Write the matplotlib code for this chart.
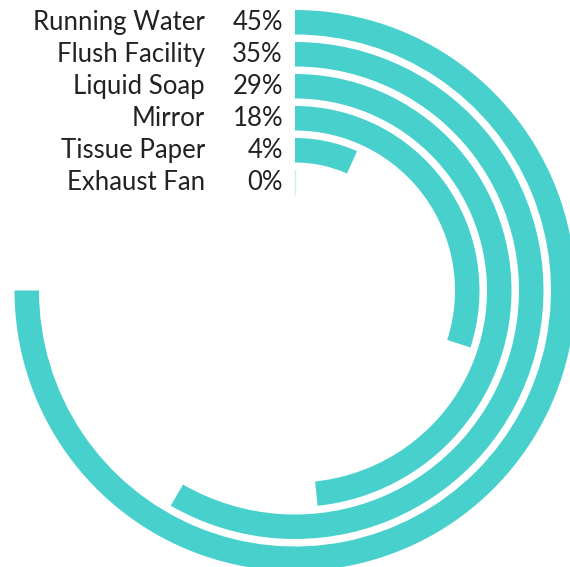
import numpy as np
import matplotlib
matplotlib.use("Agg")
import matplotlib.pyplot as plt

categories = ["Running Water", "Flush Facility", "Liquid Soap", "Mirror", "Tissue Paper", "Exhaust Fan"]
values = [45, 35, 29, 18, 4, 0]
value_labels = ["45%", "35%", "29%", "18%", "4%", "0%"]
scale_max = 60  # full circle

W, H = 570, 567
fig = plt.figure(figsize=(W / 100, H / 100), dpi=100)
plt.rcParams['font.family'] = ['Lato', 'DejaVu Sans']

cx, cy = 295, 567 - 290.5   # centre in pixels from bottom-left
R = 290
ax = fig.add_axes([(cx - R) / W, (cy - R) / H, 2 * R / W, 2 * R / H], projection='polar')
ax.set_theta_zero_location('N')
ax.set_theta_direction(-1)
ax.set_ylim(0, R)
ax.set_axis_off()

color = '#48D1CC'
outer0 = 280.5
pitch = 32
bw = 24.5
fs = 18.5
for i, (cat, v, lab) in enumerate(zip(categories, values, value_labels)):
    r_out = outer0 - i * pitch
    r_in = r_out - bw
    theta = v / scale_max * 2 * np.pi
    if v > 0:
        ax.barh(r_in, theta, left=0, height=bw, align='edge', color=color,
                edgecolor='none', linewidth=0)
    else:
        ax.plot([0, 0], [r_in, r_out], color='#c9efec', lw=1.0, solid_capstyle='butt')
    rc = (r_in + r_out) / 2
    ax.annotate(lab, xy=(0, rc), xycoords='data', xytext=(-12 * 0.72, 0),
                textcoords='offset points', ha='right', va='center',
                fontsize=fs, color='#222222', annotation_clip=False)
    ax.annotate(cat, xy=(0, rc), xycoords='data', xytext=(-90 * 0.72, 0),
                textcoords='offset points', ha='right', va='center',
                fontsize=fs, color='#222222', annotation_clip=False)

fig.savefig('out.png', dpi=100)
